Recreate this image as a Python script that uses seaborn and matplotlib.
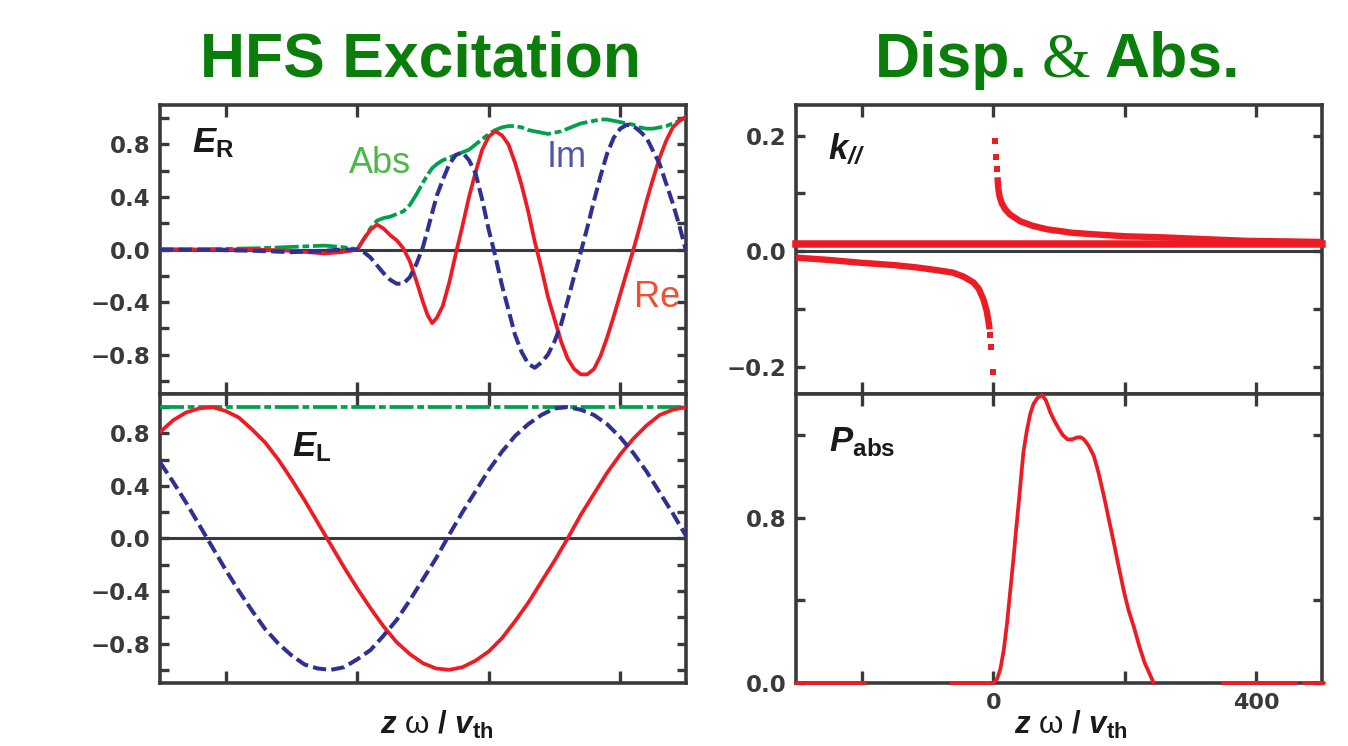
import matplotlib
matplotlib.use("Agg")
import numpy as np
import pandas as pd
import matplotlib.pyplot as plt
import seaborn as sns

sns.set_style("ticks")
plt.rcParams["font.family"] = ["Liberation Sans", "DejaVu Sans"]
plt.rcParams["mathtext.fontset"] = "custom"
plt.rcParams["mathtext.rm"] = "Liberation Serif"
plt.rcParams["mathtext.it"] = "Liberation Sans:italic"
plt.rcParams["mathtext.bf"] = "Liberation Sans:bold"
plt.rcParams["mathtext.bfit"] = "Liberation Sans:italic:bold"

# ---------------- data ----------------
# HFS excitation, right-hand field E_R (normalised), vs z*omega/v_th
er_x = [-300, -250, -200, -150, -100, -75, -50, -25, -10,
        0, 10, 20, 30, 40, 50, 60, 70, 80, 90, 100, 107, 114, 121, 130, 140,
        150, 160, 170, 180, 190, 200, 210, 220, 230, 240, 250, 260, 270, 280,
        290, 300, 310, 320, 330, 340, 350, 360, 370, 380, 390, 400, 410, 420,
        430, 440, 450, 460, 470, 480, 490, 500]
er_re = [0.0, 0.0, 0.0, 0.0, -0.01, -0.02, -0.03, -0.02, -0.01,
         0.00, 0.08, 0.15, 0.19, 0.16, 0.11, 0.07, 0.01, -0.09, -0.24, -0.40,
         -0.50, -0.56, -0.52, -0.43, -0.25, -0.03, 0.18, 0.40, 0.59, 0.76,
         0.86, 0.90, 0.87, 0.80, 0.66, 0.49, 0.29, 0.06, -0.14, -0.36, -0.53,
         -0.70, -0.83, -0.91, -0.95, -0.95, -0.91, -0.81, -0.67, -0.51, -0.34,
         -0.17, 0.00, 0.18, 0.37, 0.54, 0.70, 0.83, 0.93, 0.98, 1.01]
er_im = [0.0, 0.0, -0.005, -0.01, -0.02, -0.015, -0.01, 0.0, 0.0,
         0.00, -0.02, -0.06, -0.12, -0.18, -0.23, -0.26, -0.26, -0.21, -0.11,
         0.02, 0.15, 0.28, 0.41, 0.53, 0.65, 0.72, 0.74, 0.68, 0.58, 0.38,
         0.15, -0.05, -0.27, -0.46, -0.65, -0.78, -0.87, -0.90, -0.86, -0.80,
         -0.70, -0.57, -0.39, -0.20, -0.02, 0.17, 0.37, 0.56, 0.73, 0.85, 0.92,
         0.95, 0.94, 0.90, 0.85, 0.75, 0.65, 0.50, 0.35, 0.18, -0.01]
er_abs = [0.0, 0.0, 0.005, 0.01, 0.02, 0.025, 0.03, 0.02, 0.01,
          0.00, 0.08, 0.16, 0.22, 0.24, 0.25, 0.27, 0.29, 0.34, 0.42, 0.51,
          0.57, 0.62, 0.65, 0.68, 0.70, 0.72, 0.74, 0.76, 0.80, 0.84, 0.88,
          0.91, 0.93, 0.94, 0.94, 0.93, 0.91, 0.90, 0.89, 0.88, 0.89, 0.90,
          0.92, 0.94, 0.96, 0.97, 0.98, 0.99, 0.99, 0.98, 0.97, 0.96, 0.95,
          0.93, 0.92, 0.92, 0.93, 0.94, 0.96, 0.98, 1.01]

# left-hand field E_L
el_x = [-300, -280, -260, -240, -220, -200, -180, -160, -140, -120, -100,
        -80, -60, -40, -20, 0, 20, 40, 60, 80, 100, 120, 140, 160, 180, 200,
        220, 240, 260, 280, 300, 320, 340, 360, 380, 400, 420, 440, 460, 480,
        500]
el_re = [0.81, 0.90, 0.96, 0.99, 1.00, 0.97, 0.92, 0.83, 0.73, 0.60, 0.45,
         0.29, 0.12, -0.05, -0.22, -0.38, -0.53, -0.67, -0.79, -0.88, -0.95,
         -0.99, -1.00, -0.98, -0.93, -0.86, -0.76, -0.63, -0.49, -0.33, -0.17,
         0.00, 0.18, 0.34, 0.50, 0.64, 0.76, 0.86, 0.94, 0.98, 1.00]
el_im = [0.58, 0.43, 0.27, 0.10, -0.07, -0.24, -0.40, -0.55, -0.69, -0.80,
         -0.89, -0.96, -0.99, -1.00, -0.98, -0.92, -0.85, -0.74, -0.62, -0.47,
         -0.31, -0.15, 0.03, 0.20, 0.36, 0.52, 0.66, 0.78, 0.87, 0.94, 0.99,
         1.00, 0.98, 0.94, 0.87, 0.77, 0.65, 0.51, 0.35, 0.19, 0.02]
el_abs = [1.00, 1.00, 1.00, 1.00, 1.00, 1.00, 1.00, 1.00, 1.00, 1.00, 1.00,
          1.00, 1.00, 1.00, 1.00, 1.00, 1.00, 1.00, 1.00, 1.00, 1.00, 1.00,
          1.00, 1.00, 1.00, 1.00, 1.00, 1.00, 1.00, 1.00, 1.00, 1.00, 1.00,
          1.00, 1.00, 1.00, 1.00, 1.00, 1.00, 1.00, 1.00]

# dispersion k_par: roots of the local dispersion relation
k_band_x = [-300, 500]
k_band_y = [0.012, 0.012]
k_low_x = [-300, -250, -200, -150, -116, -90, -61, -45, -30, -22, -15, -10,
           -7, -5.5]
k_low_y = [-0.011, -0.015, -0.020, -0.024, -0.028, -0.032, -0.037, -0.044,
           -0.054, -0.065, -0.083, -0.103, -0.123, -0.135]
k_low_pts_x = [-4.5, -3.0, -1.0]
k_low_pts_y = [-0.145, -0.166, -0.209]
k_up_x = [6.5, 7, 8, 10, 13, 18, 25, 41, 60, 82, 120, 158, 200, 260, 320,
          387, 450, 500]
k_up_y = [0.128, 0.118, 0.106, 0.093, 0.083, 0.073, 0.064, 0.052, 0.044,
          0.038, 0.032, 0.029, 0.026, 0.024, 0.021, 0.018, 0.017, 0.016]
k_up_pts_x = [3.0, 4.5, 5.5]
k_up_pts_y = [0.190, 0.163, 0.142]

# absorbed power profile (drawn piecewise)
p_seg = [0, 0] + [1] * 42 + [2, 2] + [3, 3]
p_x = [-300, -195,
       -64, -20, 0, 6, 11, 16, 21, 26, 31, 35, 39, 43, 46, 51, 56, 61, 67, 74,
       80, 87, 93, 100, 106, 113, 120, 128, 133, 138, 145, 153, 160, 168, 176,
       184, 191, 199, 206, 214, 222, 230, 237, 244,
       350, 461,
       473, 503]
p_y = [0.0, 0.0,
       0.0, 0.0, 0.0, 0.02, 0.07, 0.16, 0.29, 0.45, 0.61, 0.75, 0.88, 1.02,
       1.12, 1.22, 1.30, 1.35, 1.38, 1.395, 1.37, 1.31, 1.27, 1.23, 1.20, 1.18,
       1.18, 1.19, 1.19, 1.18, 1.15, 1.10, 1.02, 0.91, 0.79, 0.67, 0.56, 0.44,
       0.35, 0.27, 0.18, 0.10, 0.05, 0.0,
       0.0, 0.0,
       0.0, 0.0]

x_ticks = [-200, 0, 200, 400]
field_yticks = [-1.0, -0.8, -0.6, -0.4, -0.2, 0.0, 0.2, 0.4, 0.6, 0.8, 1.0]
field_ylabels = [-0.8, -0.4, 0.0, 0.4, 0.8]
k_yticks = [-0.2, -0.1, 0.0, 0.1, 0.2]
k_ylabels = [-0.2, 0.0, 0.2]
p_yticks = [0.0, 0.4, 0.8, 1.2]
p_ylabels = [0.0, 0.8]

# ---------------- style ----------------
RED = "#ED1C24"
NAVY = "#2E3192"
GREEN = "#00A14B"
GREEN_TXT = "#4DB848"
NAVY_TXT = "#4F57A6"
RED_TXT = "#F04E30"
TITLE = "#0A7D0A"
FRAME = "#3A3A3C"
LW = 2.7

DASHED = (0, (3.3, 1.3))
DASHDOT = (0, (6.4, 1.0, 1.8, 1.0))

fig = plt.figure(figsize=(13.48, 7.46), dpi=100)
L0, R0, W = 0.1187, 0.5905, 0.3902
TOP_B, BOT_B, H = 0.4718, 0.0845, 0.3874
ax_er = fig.add_axes([L0, TOP_B, W, H])
ax_el = fig.add_axes([L0, BOT_B, W, H])
ax_k = fig.add_axes([R0, TOP_B, W, H])
ax_p = fig.add_axes([R0, BOT_B, W, H])


def fmt(v):
    return f"{v:.1f}".replace("-", "\u2212")


def frame(ax, ylim, yticks, ylabels, xlabels=None):
    ax.set_xlim(-300, 500)
    ax.set_ylim(*ylim)
    ylab = [fmt(t) if any(abs(t - l) < 1e-9 for l in ylabels) else "" for t in yticks]
    ax.set_yticks(yticks, labels=ylab, fontsize=16.5, fontweight="bold",
                  fontfamily="DejaVu Sans", color=FRAME)
    xl = xlabels if xlabels is not None else [""] * len(x_ticks)
    ax.set_xticks(x_ticks, labels=xl, fontsize=16, fontweight="bold",
                  fontfamily="DejaVu Sans", color=FRAME)
    ax.tick_params(axis="both", direction="in", top=True, right=True,
                   width=2.4, color=FRAME)
    ax.tick_params(axis="x", length=8.5, pad=7)
    ax.tick_params(axis="y", length=6.5, pad=7)
    for s in ax.spines.values():
        s.set_visible(True)
        s.set_linewidth(2.6)
        s.set_color(FRAME)
    ax.set_xlabel("")
    ax.set_ylabel("")


def field_panel(ax, x, re, im, ab):
    df = pd.DataFrame({"x": x, "re": re, "im": im, "abs": ab})
    ax.axhline(0, color=FRAME, lw=2.2, zorder=1.5)
    sns.lineplot(data=df, x="x", y="abs", ax=ax, color=GREEN, lw=LW,
                 linestyle=DASHDOT, estimator=None, sort=False, zorder=3)
    sns.lineplot(data=df, x="x", y="re", ax=ax, color=RED, lw=LW,
                 estimator=None, sort=False, zorder=4)
    sns.lineplot(data=df, x="x", y="im", ax=ax, color=NAVY, lw=LW + 0.2,
                 linestyle=DASHED, estimator=None, sort=False, zorder=5)


# E_R panel
field_panel(ax_er, er_x, er_re, er_im, er_abs)
frame(ax_er, (-1.1, 1.1), field_yticks, field_ylabels)
ax_er.text(0.06, 0.925, r"$\mathbfit{E}_{\mathbf{R}}$", transform=ax_er.transAxes,
           fontsize=25, ha="left", va="top", color="#1A1A1A")
ax_er.text(0.418, 0.796, "Abs", transform=ax_er.transAxes, fontsize=26,
           ha="center", va="center", color=GREEN_TXT)
ax_er.text(0.774, 0.817, "Im", transform=ax_er.transAxes, fontsize=26,
           ha="center", va="center", color=NAVY_TXT)
ax_er.text(0.945, 0.335, "Re", transform=ax_er.transAxes, fontsize=26,
           ha="center", va="center", color=RED_TXT)

# E_L panel
field_panel(ax_el, el_x, el_re, el_im, el_abs)
frame(ax_el, (-1.1, 1.1), field_yticks, field_ylabels)
ax_el.text(0.251, 0.875, r"$\mathbfit{E}_{\mathbf{L}}$", transform=ax_el.transAxes,
           fontsize=25, ha="left", va="top", color="#1A1A1A")

# k_par panel
ax_k.axhline(0, color=FRAME, lw=2.2, zorder=1.5)
band = pd.DataFrame({"x": k_band_x, "k": k_band_y})
low = pd.DataFrame({"x": k_low_x, "k": k_low_y})
up = pd.DataFrame({"x": k_up_x, "k": k_up_y})
sns.lineplot(data=band, x="x", y="k", ax=ax_k, color=RED, lw=5.4,
             estimator=None, sort=False, zorder=3, clip_on=False,
             solid_capstyle="projecting")
sns.lineplot(data=low, x="x", y="k", ax=ax_k, color=RED, lw=4.6,
             estimator=None, sort=False, zorder=3, solid_capstyle="butt")
sns.lineplot(data=up, x="x", y="k", ax=ax_k, color=RED, lw=4.6,
             estimator=None, sort=False, zorder=3, solid_capstyle="butt")
pts = pd.DataFrame({"x": k_low_pts_x + k_up_pts_x,
                    "k": k_low_pts_y + k_up_pts_y})
sns.scatterplot(data=pts, x="x", y="k", ax=ax_k, color=RED, marker="s",
                s=24, linewidth=0, zorder=3)
frame(ax_k, (-0.247, 0.253), k_yticks, k_ylabels)
ax_k.text(0.061, 0.905, r"$\mathbfit{k}_{\mathbfit{//}}$", transform=ax_k.transAxes,
          fontsize=25, ha="left", va="top", color="#1A1A1A")

# absorbed power panel
pdf = pd.DataFrame({"seg": p_seg, "x": p_x, "p": p_y})
sns.lineplot(data=pdf, x="x", y="p", units="seg", ax=ax_p, color=RED, lw=LW,
             estimator=None, sort=False, zorder=5, clip_on=False)
frame(ax_p, (0.0, 1.4), p_yticks, p_ylabels, xlabels=["", "0", "", "400"])
ax_p.text(0.063, 0.893, r"$\mathbfit{P}_{\mathbf{abs}}$", transform=ax_p.transAxes,
          fontsize=25, ha="left", va="top", color="#1A1A1A")

# axis captions
xcap = r"$\mathbfit{z}$ ω $\mathbf{/}$ $\mathbfit{v}_{\mathbf{th}}$"
fig.text(0.3245, 0.016, xcap, ha="center", va="baseline", fontsize=22.5,
         color="#1A1A1A")
fig.text(0.7945, 0.016, xcap, ha="center", va="baseline", fontsize=22.5,
         color="#1A1A1A")

# column titles; the ampersand is set in a serif face
TITLE_Y = 0.897
fig.text(0.3116, TITLE_Y, "HFS Excitation", ha="center", va="baseline",
         fontsize=45, fontweight="bold", color=TITLE)
renderer = fig.canvas.get_renderer()
parts = [("Disp.", "Liberation Sans", "bold"),
         ("&", "Liberation Serif", "normal"),
         ("Abs.", "Liberation Sans", "bold")]
pieces = []
for s, fam, wt in parts:
    t = fig.text(0, TITLE_Y, s, ha="left", va="baseline", fontsize=45,
                 fontweight=wt, family=fam, color=TITLE)
    pieces.append(t)
gap_px = 14.0
widths = [p.get_window_extent(renderer).width for p in pieces]
total = sum(widths) + gap_px * (len(widths) - 1)
fig_w = fig.bbox.width
left = 0.7845 * fig_w - total / 2
for p, w in zip(pieces, widths):
    p.set_x(left / fig_w)
    left += w + gap_px

fig.savefig("out.png", dpi=100)
